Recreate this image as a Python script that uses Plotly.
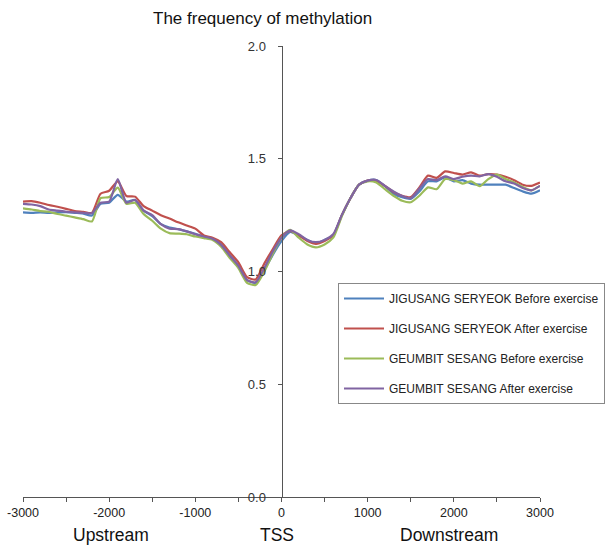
import plotly.graph_objects as go

positions = list(range(-3000, 3001, 100))

jigusang_before = [
    1.262, 1.260, 1.262, 1.260, 1.262, 1.263, 1.260, 1.257, 1.248, 1.300,
    1.305, 1.340, 1.310, 1.318, 1.270, 1.245, 1.210, 1.195, 1.188, 1.178,
    1.167, 1.155, 1.145, 1.120, 1.072, 1.025, 0.962, 0.950, 1.005, 1.075,
    1.135, 1.175, 1.160, 1.140, 1.125, 1.140, 1.160, 1.250, 1.325, 1.385,
    1.403, 1.406, 1.378, 1.345, 1.329, 1.322, 1.355, 1.400, 1.400, 1.417,
    1.400, 1.405, 1.390, 1.385, 1.385, 1.385, 1.385, 1.370, 1.355, 1.345,
    1.360]
jigusang_after = [
    1.310, 1.312, 1.305, 1.295, 1.287, 1.278, 1.268, 1.265, 1.260, 1.345,
    1.358, 1.400, 1.335, 1.332, 1.290, 1.270, 1.250, 1.235, 1.218, 1.204,
    1.190, 1.160, 1.150, 1.130, 1.085, 1.040, 0.975, 0.965, 1.035, 1.100,
    1.160, 1.180, 1.160, 1.135, 1.122, 1.135, 1.160, 1.250, 1.325, 1.385,
    1.403, 1.400, 1.380, 1.352, 1.336, 1.330, 1.373, 1.425, 1.415, 1.444,
    1.437, 1.430, 1.440, 1.425, 1.432, 1.430, 1.420, 1.405, 1.385, 1.380,
    1.395]
geumbit_before = [
    1.280, 1.275, 1.268, 1.265, 1.255, 1.248, 1.240, 1.232, 1.222, 1.325,
    1.330, 1.372, 1.300, 1.305, 1.255, 1.225, 1.190, 1.170, 1.168, 1.165,
    1.155, 1.148, 1.140, 1.110, 1.060, 1.015, 0.950, 0.940, 1.000, 1.080,
    1.150, 1.185, 1.150, 1.120, 1.107, 1.120, 1.150, 1.245, 1.325, 1.385,
    1.400, 1.395, 1.365, 1.336, 1.314, 1.307, 1.336, 1.373, 1.365, 1.410,
    1.405, 1.390, 1.400, 1.378, 1.410, 1.430, 1.410, 1.395, 1.375, 1.360,
    1.380]
geumbit_after = [
    1.300, 1.297, 1.290, 1.275, 1.270, 1.265, 1.262, 1.260, 1.258, 1.305,
    1.310, 1.410, 1.305, 1.317, 1.270, 1.250, 1.210, 1.190, 1.188, 1.178,
    1.165, 1.155, 1.145, 1.118, 1.070, 1.025, 0.962, 0.952, 1.015, 1.090,
    1.150, 1.182, 1.165, 1.140, 1.130, 1.140, 1.165, 1.250, 1.325, 1.385,
    1.403, 1.406, 1.380, 1.355, 1.335, 1.325, 1.368, 1.410, 1.405, 1.422,
    1.410, 1.420, 1.425, 1.422, 1.432, 1.420, 1.400, 1.390, 1.370, 1.360,
    1.380]

series_names = [
    "JIGUSANG SERYEOK Before exercise",
    "JIGUSANG SERYEOK After exercise",
    "GEUMBIT SESANG Before exercise",
    "GEUMBIT SESANG After exercise",
]
series_values = [jigusang_before, jigusang_after, geumbit_before, geumbit_after]
colors = ["#4F81BD", "#C0504D", "#9BBB59", "#8064A2"]

x_ticks = [-3000, -2000, -1000, 0, 1000, 2000, 3000]
x_ticktext = ["-3000", "-2000", "-1000", "0", "1000", "2000", "3000"]
y_ticks = [0.0, 0.5, 1.0, 1.5, 2.0]
region_labels = ["Upstream", "TSS", "Downstream"]

fig = go.Figure()
for i, (name, vals, col) in enumerate(zip(series_names, series_values, colors)):
    fig.add_trace(go.Scatter(
        x=positions, y=vals, mode="lines", name=name,
        line=dict(color=col, width=2.2, shape="spline", smoothing=0.6),
        legendgroup=f"g{i}",
    ))

W, H = 605, 549
L, R, T, B = 23, 65, 46, 52
PW, PH = W - L - R, H - T - B

fig.update_layout(
    width=W, height=H,
    margin=dict(l=L, r=R, t=T, b=B, pad=0, autoexpand=False),
    paper_bgcolor="white", plot_bgcolor="white",
    font=dict(family="Liberation Sans, Arial, sans-serif", color="#333333"),
    showlegend=True,
    legend=dict(
        x=(338 - L) / PW, y=(H - B - 283) / PH,
        xanchor="left", yanchor="top",
        bordercolor="#888888", borderwidth=1, bgcolor="white",
        font=dict(size=12, color="#222222"),
        tracegroupgap=11, itemwidth=40,
    ),
    xaxis=dict(
        range=[-3000, 3000], tickvals=x_ticks, ticktext=x_ticktext,
        showgrid=False, zeroline=False, automargin=False,
        showline=True, linecolor="#555555", linewidth=1,
        ticks="outside", ticklen=4, tickcolor="#555555",
        minor=dict(dtick=500, ticks="outside", ticklen=4, tickcolor="#555555"),
        tickfont=dict(size=12.5, color="#222222"),
    ),
    yaxis=dict(
        range=[0, 2.0], tickvals=y_ticks, tickformat=".1f",
        showgrid=False, zeroline=False, automargin=False,
        anchor="free", position=0.5,
        showline=True, linecolor="#555555", linewidth=1,
        ticks="outside", ticklen=4, tickcolor="#555555",
        ticklabelstandoff=9,
        tickfont=dict(size=13, color="#333333"),
    ),
)

fig.add_annotation(
    text="The frequency of methylation", xref="paper", yref="paper",
    x=(262 - L) / PW, y=(H - B - 18) / PH,
    showarrow=False, xanchor="center", yanchor="middle",
    font=dict(size=17, color="#111111"),
)
for lbl, px in zip(region_labels, [110.5, 277, 449]):
    fig.add_annotation(
        text=lbl, xref="paper", yref="paper",
        x=(px - L) / PW, y=(H - B - 535) / PH,
        showarrow=False, xanchor="center", yanchor="middle",
        font=dict(size=17.5, color="#111111"),
    )

fig.write_html("out.html")
